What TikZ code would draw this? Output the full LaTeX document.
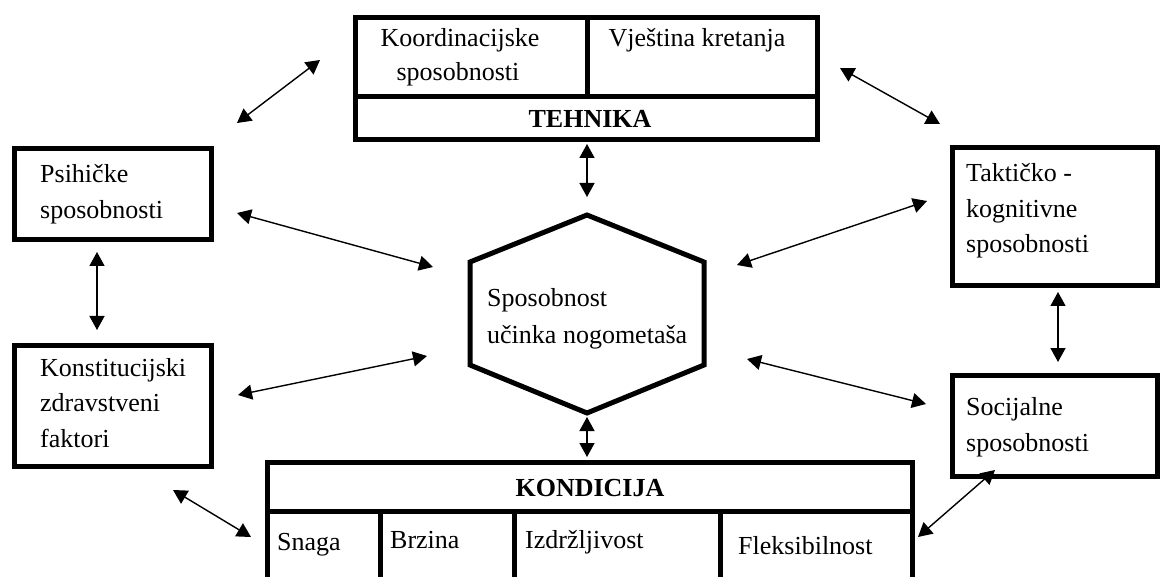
\documentclass[tikz,border=0pt]{standalone}
\usepackage{fontspec}
\setmainfont{Liberation Serif}
\usetikzlibrary{arrows.meta,fit}

\tikzset{
  box/.style={draw, line width=5pt, inner sep=0pt},
  rule/.style={line width=5pt},
  txt/.style={font=\fontsize{26}{34}\selectfont, inner sep=0pt},
  link/.style={{Triangle[length=14pt,width=15pt]}-{Triangle[length=14pt,width=15pt]}, line width=1.4pt},
}

\begin{document}
\begin{tikzpicture}[x=1pt,y=-1pt]
  \useasboundingbox (0,0) rectangle (1162,577);
  \clip (0,0) rectangle (1162,577);

  % Tehnika (top)
  \node[box, fit={(355,18) (817,140)}] (teh) {};
  \draw[rule] (355,97) -- (817,97);
  \draw[rule] (587,18) -- (587,97);
  \node[txt, anchor=base] (koord1) at (460,47) {Koordinacijske};
  \node[txt, anchor=base] (koord2) at (458,81) {sposobnosti};
  \node[txt, anchor=base] (vjest) at (697,47) {Vještina kretanja};
  \node[txt, anchor=base, font=\fontsize{26}{34}\selectfont\bfseries] (tehlbl) at (590,128) {TEHNIKA};

  % Left boxes
  \node[box, fit={(14,149) (211,240)}] (psih) {};
  \node[txt, anchor=base west] (psih1) at (40,183) {Psihičke};
  \node[txt, anchor=base west] (psih2) at (40,219) {sposobnosti};

  \node[box, fit={(14,345) (211,466)}] (konst) {};
  \node[txt, anchor=base west] (konst1) at (40,376) {Konstitucijski};
  \node[txt, anchor=base west] (konst2) at (40,411) {zdravstveni};
  \node[txt, anchor=base west] (konst3) at (40,447) {faktori};

  % Right boxes
  \node[box, fit={(952,148) (1157,286)}] (takt) {};
  \node[txt, anchor=base west] (takt1) at (966,182) {Taktičko -};
  \node[txt, anchor=base west] (takt2) at (966,218) {kognitivne};
  \node[txt, anchor=base west] (takt3) at (966,253) {sposobnosti};

  \node[box, fit={(952,375) (1157,476)}] (soc) {};
  \node[txt, anchor=base west] (soc1) at (966,415) {Socijalne};
  \node[txt, anchor=base west] (soc2) at (966,451) {sposobnosti};

  % Centre hexagon
  \draw[line width=5pt, line join=miter] (587,215) -- (704,262) -- (704,365) -- (587,413)
    -- (470,365) -- (470,262) -- cycle;
  \coordinate (hex) at (587,314);
  \node[txt, anchor=base west] (hex1) at (487,307) {Sposobnost};
  \node[txt, anchor=base west] (hex2) at (487,343) {učinka nogometaša};

  % Kondicija (bottom)
  \node[box, fit={(267,462) (912,600)}] (kond) {};
  \draw[rule] (267,511) -- (912,511);
  \foreach \x in {380,514,720}
    \draw[rule] (\x,511) -- (\x,600);
  \node[txt, anchor=base, font=\fontsize{26}{34}\selectfont\bfseries] (kondlbl) at (590,496) {KONDICIJA};
  \node[txt, anchor=base west] (snaga) at (277,550) {Snaga};
  \node[txt, anchor=base west] (brzina) at (390,548) {Brzina};
  \node[txt, anchor=base west] (izdr) at (525,548) {Izdržljivost};
  \node[txt, anchor=base west] (flek) at (738,554) {Fleksibilnost};

  % arrow ends
  \coordinate (tl-a) at (237,123);
  \coordinate (tl-b) at (320,60);
  \coordinate (tr-a) at (840,68);
  \coordinate (tr-b) at (940,124);
  \coordinate (psih-e) at (237,213);
  \coordinate (hex-ul) at (433,267);
  \coordinate (takt-w) at (927,201);
  \coordinate (hex-ur) at (737,265);
  \coordinate (konst-e) at (238,395);
  \coordinate (hex-ll) at (427,356);
  \coordinate (soc-w) at (926,404);
  \coordinate (hex-lr) at (747,359);
  \coordinate (teh-s) at (587,144);
  \coordinate (hex-n) at (587,197);
  \coordinate (hex-s) at (587,417);
  \coordinate (kond-n) at (587,457);
  \coordinate (psih-s) at (97,252);
  \coordinate (konst-n) at (97,330);
  \coordinate (takt-s) at (1058,292);
  \coordinate (soc-n) at (1058,362);
  \coordinate (bl-a) at (173,490);
  \coordinate (bl-b) at (251,537);
  \coordinate (br-a) at (918,537);
  \coordinate (br-b) at (995,470);

  % links
  \draw[link] (tl-a) -- (tl-b);
  \draw[link] (tr-a) -- (tr-b);
  \draw[link] (psih-e) -- (hex-ul);
  \draw[link] (hex-ur) -- (takt-w);
  \draw[link] (konst-e) -- (hex-ll);
  \draw[link] (hex-lr) -- (soc-w);
  \draw[link] (teh-s) -- (hex-n);
  \draw[link] (hex-s) -- (kond-n);
  \draw[link] (psih-s) -- (konst-n);
  \draw[link] (takt-s) -- (soc-n);
  \draw[link] (bl-a) -- (bl-b);
  \draw[link] (br-a) -- (br-b);
\end{tikzpicture}
\end{document}
